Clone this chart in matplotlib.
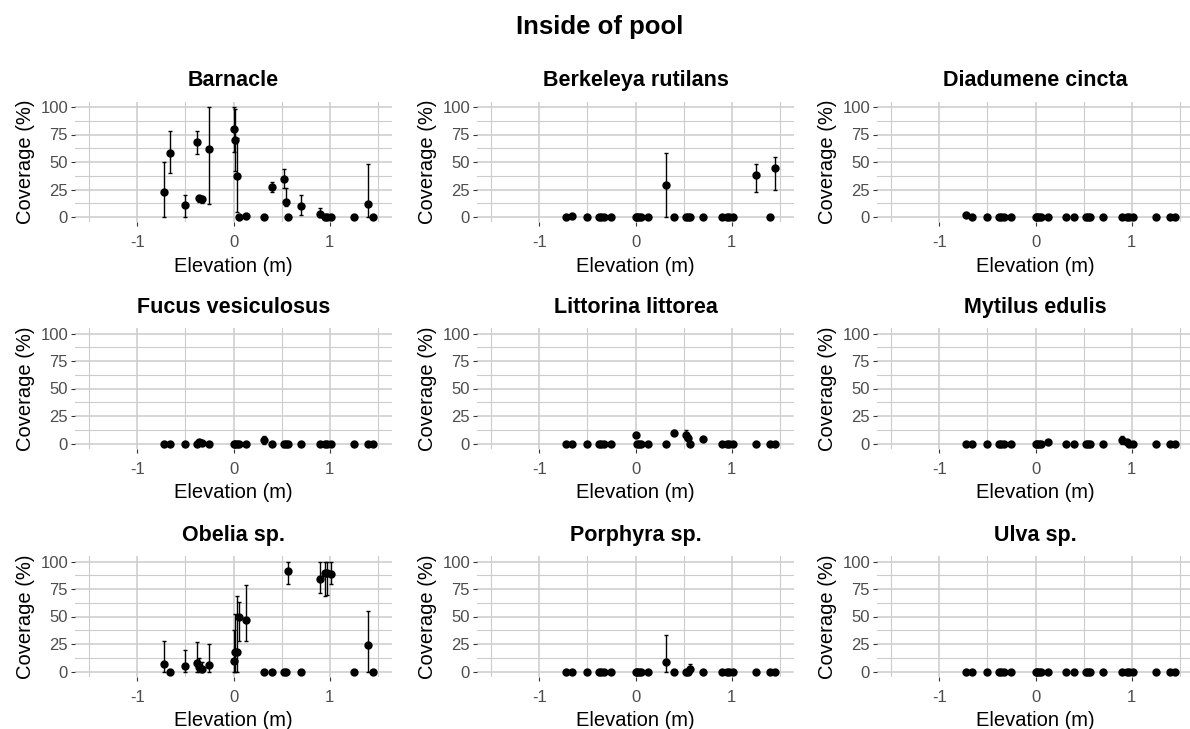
import numpy as np
import matplotlib
matplotlib.use("Agg")
import matplotlib.pyplot as plt
from matplotlib.ticker import MultipleLocator

plt.rcParams['font.family'] = ['Liberation Sans', 'DejaVu Sans']
plt.rcParams['axes.unicode_minus'] = False

# Elevation of each pool (m)
elev = [-0.72, -0.66, -0.50, -0.38, -0.36, -0.33, -0.26, 0.00, 0.02, 0.04, 0.06, 0.13,
        0.32, 0.40, 0.53, 0.55, 0.57, 0.70, 0.90, 0.95, 0.97, 1.02, 1.25, 1.40, 1.45]

species = ['Barnacle', 'Berkeleya rutilans', 'Diadumene cincta',
           'Fucus vesiculosus', 'Littorina littorea', 'Mytilus edulis',
           'Obelia sp.', 'Porphyra sp.', 'Ulva sp.']

# mean coverage (%) and error bar limits per pool
barnacle_mean = [23, 58, 11, 68, 17, 16, 62, 80, 70, 37, 0, 1, 0, 27, 35, 14, 0, 10, 3, 0, 0, 0, 0, 12, 0]
barnacle_lo = [0, 40, 0, 57, 14, 13, 12, 59, 42, 5, 0, 0, 0, 23, 26, 10, 0, 2, 0, 0, 0, 0, 0, 0, 0]
barnacle_hi = [50, 78, 20, 78, 19, 18, 100, 100, 98, 72, 0, 2, 0, 32, 44, 26, 0, 20, 8, 0, 0, 0, 0, 48, 0]

berkeleya_mean = [0, 1, 0, 0, 0, 0, 0, 0, 0, 0, 0, 0, 29, 0, 0, 0, 0, 0, 0, 0, 0, 0, 38, 0, 45]
berkeleya_lo = [0, 0, 0, 0, 0, 0, 0, 0, 0, 0, 0, 0, 0, 0, 0, 0, 0, 0, 0, 0, 0, 0, 23, 0, 25]
berkeleya_hi = [0, 2, 0, 0, 0, 0, 0, 0, 0, 0, 0, 0, 58, 0, 0, 0, 0, 0, 0, 0, 0, 0, 48, 0, 55]

diadumene_mean = [1.5, 0, 0, 0, 0, 0, 0, 0, 0, 0, 0, 0, 0, 0, 0, 0, 0, 0, 0, 0, 0, 0, 0, 0, 0]
diadumene_lo = [0, 0, 0, 0, 0, 0, 0, 0, 0, 0, 0, 0, 0, 0, 0, 0, 0, 0, 0, 0, 0, 0, 0, 0, 0]
diadumene_hi = [3, 0, 0, 0, 0, 0, 0, 0, 0, 0, 0, 0, 0, 0, 0, 0, 0, 0, 0, 0, 0, 0, 0, 0, 0]

fucus_mean = [0, 0, 0, 0, 1.5, 0.5, 0, 0, 0, 0, 0, 0, 3.5, 0, 0, 0, 0, 0, 0, 0, 0, 0, 0, 0, 0]
fucus_lo = [0, 0, 0, 0, 0.5, 0, 0, 0, 0, 0, 0, 0, 0, 0, 0, 0, 0, 0, 0, 0, 0, 0, 0, 0, 0]
fucus_hi = [0, 0, 0, 0, 2.5, 1, 0, 0, 0, 0, 0, 0, 7, 0, 0, 0, 0, 0, 0, 0, 0, 0, 0, 0, 0]

littorina_mean = [0, 0, 0, 0, 0, 0, 0, 8, 0, 0, 0, 0, 0, 10, 8, 5, 0, 4, 0, 0, 0, 0, 0, 0, 0]
littorina_lo = [0, 0, 0, 0, 0, 0, 0, 6, 0, 0, 0, 0, 0, 8, 4, 2, 0, 2, 0, 0, 0, 0, 0, 0, 0]
littorina_hi = [0, 0, 0, 0, 0, 0, 0, 9, 0, 0, 0, 0, 0, 12, 12, 8, 0, 6, 0, 0, 0, 0, 0, 0, 0]

mytilus_mean = [0, 0, 0, 0, 0, 0, 0, 0, 0, 0, 0, 1.5, 0, 0, 0, 0, 0, 0, 3, 1, 0, 0, 0, 0, 0]
mytilus_lo = [0, 0, 0, 0, 0, 0, 0, 0, 0, 0, 0, 1, 0, 0, 0, 0, 0, 0, 0, 0, 0, 0, 0, 0, 0]
mytilus_hi = [0, 0, 0, 0, 0, 0, 0, 0, 0, 0, 0, 2, 0, 0, 0, 0, 0, 0, 7, 2, 0, 0, 0, 0, 0]

obelia_mean = [7, 0, 5, 8, 4, 2, 6, 10, 18, 18, 50, 47, 0, 0, 0, 0, 91, 0, 84, 90, 90, 89, 0, 24, 0]
obelia_lo = [0, 0, 0, 0, 0, 0, 0, 0, 0, 0, 28, 28, 0, 0, 0, 0, 80, 0, 71, 69, 70, 80, 0, 0, 0]
obelia_hi = [28, 0, 20, 27, 12, 9, 25, 38, 52, 69, 63, 79, 0, 0, 0, 0, 100, 0, 100, 100, 100, 100, 0, 55, 0]

porphyra_mean = [0, 0, 0, 0, 0, 0, 0, 0, 0, 0, 0, 0, 9, 0, 0, 0, 2, 0, 0, 0, 0, 0, 0, 0, 0]
porphyra_lo = [0, 0, 0, 0, 0, 0, 0, 0, 0, 0, 0, 0, 0, 0, 0, 0, 0, 0, 0, 0, 0, 0, 0, 0, 0]
porphyra_hi = [0, 0, 0, 0, 0, 0, 0, 0, 0, 0, 0, 0, 33, 0, 0, 0, 7, 0, 0, 0, 0, 0, 0, 0, 0]

ulva_mean = [0, 0, 0, 0, 0, 0, 0, 0, 0, 0, 0, 0, 0, 0, 0, 0, 0, 0, 0, 0, 0, 0, 0, 0, 0]
ulva_lo = [0, 0, 0, 0, 0, 0, 0, 0, 0, 0, 0, 0, 0, 0, 0, 0, 0, 0, 0, 0, 0, 0, 0, 0, 0]
ulva_hi = [0, 0, 0, 0, 0, 0, 0, 0, 0, 0, 0, 0, 0, 0, 0, 0, 0, 0, 0, 0, 0, 0, 0, 0, 0]

series = [(barnacle_mean, barnacle_lo, barnacle_hi),
          (berkeleya_mean, berkeleya_lo, berkeleya_hi),
          (diadumene_mean, diadumene_lo, diadumene_hi),
          (fucus_mean, fucus_lo, fucus_hi),
          (littorina_mean, littorina_lo, littorina_hi),
          (mytilus_mean, mytilus_lo, mytilus_hi),
          (obelia_mean, obelia_lo, obelia_hi),
          (porphyra_mean, porphyra_lo, porphyra_hi),
          (ulva_mean, ulva_lo, ulva_hi)]

W, H = 1190, 729
fig = plt.figure(figsize=(W/100, H/100), dpi=100)
fig.text(600/W, 1-27/H, 'Inside of pool', ha='center', va='center',
         fontsize=18.5, fontweight='bold')

col_left = [75, 477, 877]
row_top = [101.5, 328, 556]
pw, ph = 317, 121
grid_col = '#cccccc'

for i, (name, (m, lo, hi)) in enumerate(zip(species, series)):
    r, c = divmod(i, 3)
    ax = fig.add_axes([col_left[c]/W, 1-(row_top[r]+ph)/H, pw/W, ph/H])
    m = np.array(m, float)
    lo = np.array(lo, float)
    hi = np.array(hi, float)
    ax.errorbar(elev, m, yerr=[m-lo, hi-m], fmt='o', color='black', ms=5,
                ecolor='black', elinewidth=1.0, capsize=1.5, capthick=1.0, zorder=3)
    ax.set_xlim(-1.65, 1.65)
    ax.set_ylim(-5, 105)
    ax.xaxis.set_major_locator(MultipleLocator(1))
    ax.xaxis.set_minor_locator(MultipleLocator(0.5))
    ax.yaxis.set_major_locator(MultipleLocator(25))
    ax.yaxis.set_minor_locator(MultipleLocator(12.5))
    ax.grid(which='major', color=grid_col, lw=1.1)
    ax.grid(which='minor', color=grid_col, lw=0.8)
    ax.set_axisbelow(True)
    for s in ax.spines.values():
        s.set_visible(False)
    ax.tick_params(which='major', length=3, width=0.8, color='#333333',
                   labelcolor='#4d4d4d', labelsize=12, pad=2)
    ax.tick_params(axis='x', which='major', pad=6)
    ax.tick_params(which='minor', length=0)
    ax.set_title(name, fontsize=15.5, fontweight='bold', pad=11)
    ax.set_xlabel('Elevation (m)', fontsize=14.5, labelpad=5)
    ax.set_ylabel('Coverage (%)', fontsize=14.5, labelpad=4)

fig.savefig('out.png', dpi=100, facecolor='white')
